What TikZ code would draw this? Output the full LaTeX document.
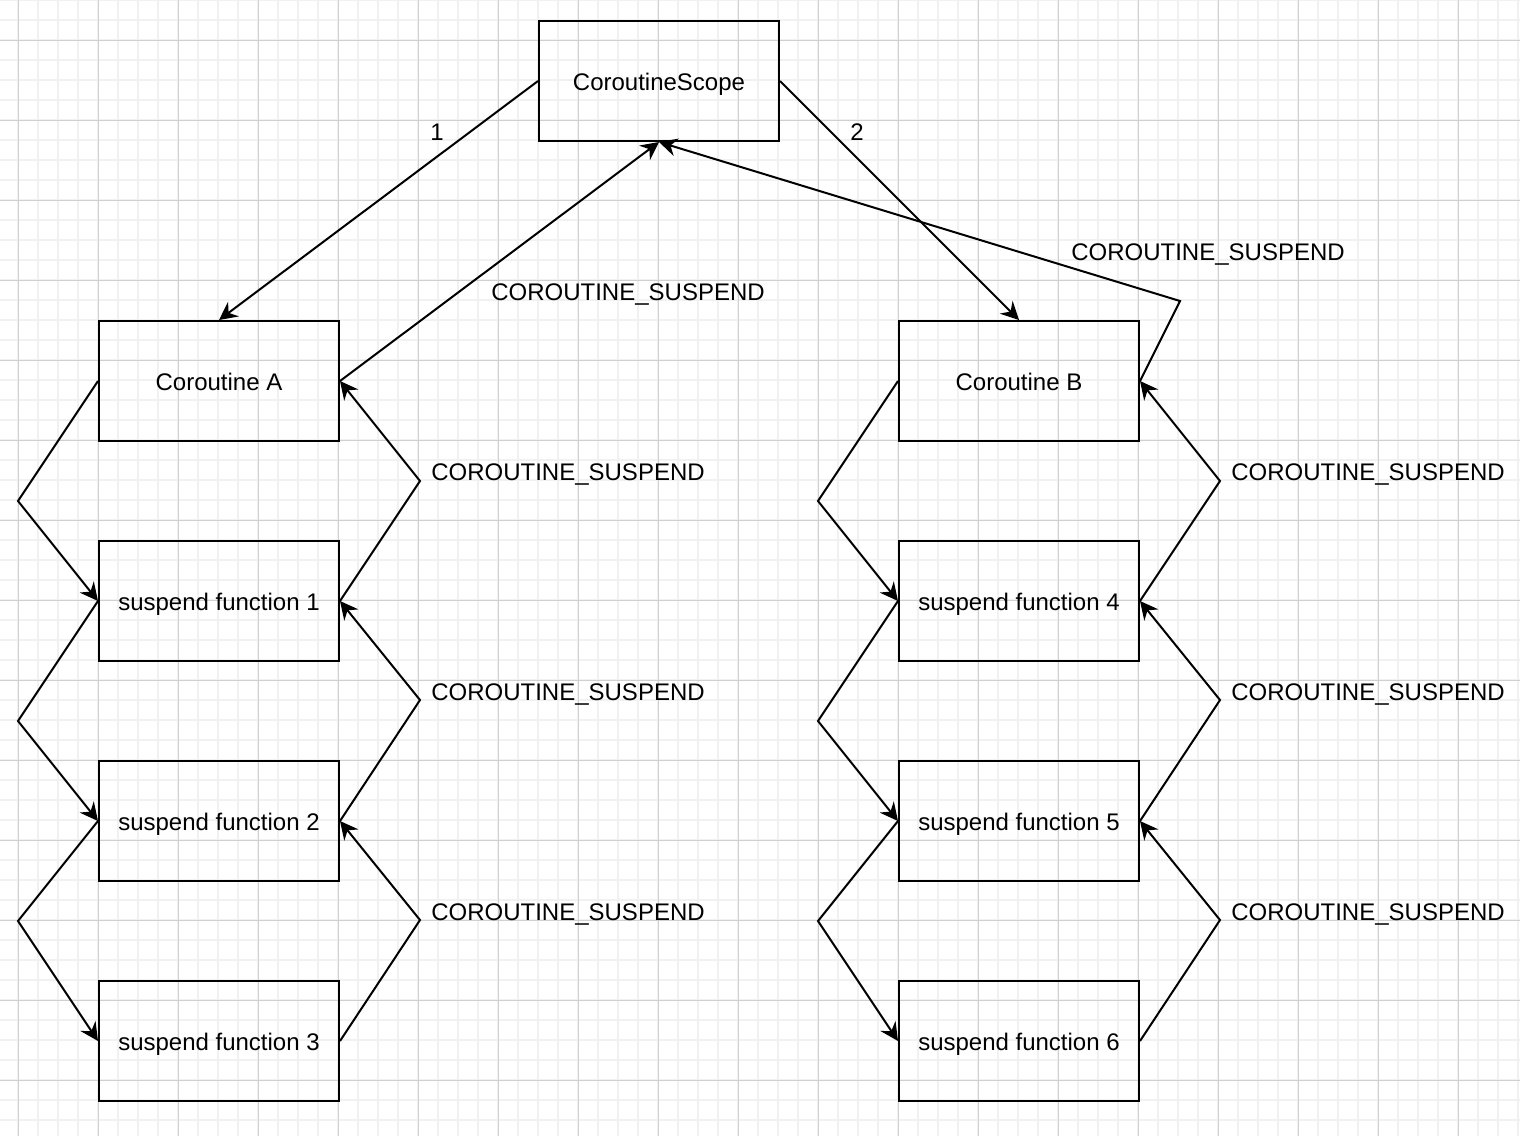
\documentclass[tikz,border=0pt]{standalone}
\usepackage{fontspec}
\setmainfont{Liberation Sans}
\usetikzlibrary{arrows.meta}

\definecolor{gridminor}{HTML}{F1F1F1}
\definecolor{gridmajor}{HTML}{D0D0D0}

\tikzset{
	box/.style={draw, line width=1pt, minimum width=120pt, minimum height=60pt, inner sep=0pt, text height=10pt, text depth=1pt},
	arr/.style={line width=1pt, -{Stealth[length=9pt, width=9pt, inset=3pt]}},
	lbl/.style={inner sep=0pt, text height=10pt, text depth=1pt}
}

\begin{document}
\begin{tikzpicture}[x=0.5pt, y=-0.5pt, font=\fontsize{12pt}{14pt}\selectfont]
	\useasboundingbox (0,0) rectangle (1520,1136);
	\fill[white] (0,0) rectangle (1520,1136);
	
	% grid
	\foreach \x in {-2,18,...,1518}
	\draw[gridminor, line width=1pt] (\x,0) -- (\x,1136);
	\foreach \y in {0,20,...,1140}
	\draw[gridminor, line width=1pt] (0,\y) -- (1520,\y);
	\foreach \x in {18,98,...,1518}
	\draw[gridmajor, line width=0.5pt] (\x,0) -- (\x,1136);
	\foreach \y in {40,120,...,1120}
	\draw[gridmajor, line width=0.5pt] (0,\y) -- (1520,\y);
	
	% scope and coroutines
	\node[box] (scope) at (659,81) {CoroutineScope};
	\node[box] (coA) at (219,381) {Coroutine A};
	\node[box] (coB) at (1019,381) {Coroutine B};
	
	% suspend functions
	\foreach \n/\x/\y in {1/219/601, 2/219/821, 3/219/1041, 4/1019/601, 5/1019/821, 6/1019/1041}
	\node[box] (sf\n) at (\x,\y) {suspend function \n};
	
	% launch
	\draw[arr] (scope.west) -- (coA.north);
	\node[lbl] (one) at (437,131) {1};
	\draw[arr] (scope.east) -- (coB.north);
	\node[lbl] (two) at (857,131) {2};
	
	% calls, left side
	\foreach \a/\b/\d in {coA/sf1/120, sf1/sf2/120, sf2/sf3/100, coB/sf4/120, sf4/sf5/120, sf5/sf6/100}
	\draw[arr] (\a.west) -- ++(-80,\d) -- (\b.west);
	
	% suspends, right side
	\foreach \a/\b/\d in {sf1/coA/120, sf2/sf1/121, sf3/sf2/121, sf4/coB/120, sf5/sf4/121, sf6/sf5/121}
	\draw[arr] (\a.east) -- ++(80,-\d) -- (\b.east);
	\foreach \y [count=\i] in {471,691,911}{
		\node[lbl] (susA\i) at (568,\y) {COROUTINE\_SUSPEND};
		\node[lbl] (susB\i) at (1368,\y) {COROUTINE\_SUSPEND};
	}
	
	% back to the scope
	\draw[arr] (coA.east) -- (scope.south);
	\node[lbl] (susA0) at (628,291) {COROUTINE\_SUSPEND};
	\draw[arr] (coB.east) -- ++(40,-80) -- (scope.south);
	\node[lbl] (susB0) at (1208,251) {COROUTINE\_SUSPEND};
	
\end{tikzpicture}
\end{document}
